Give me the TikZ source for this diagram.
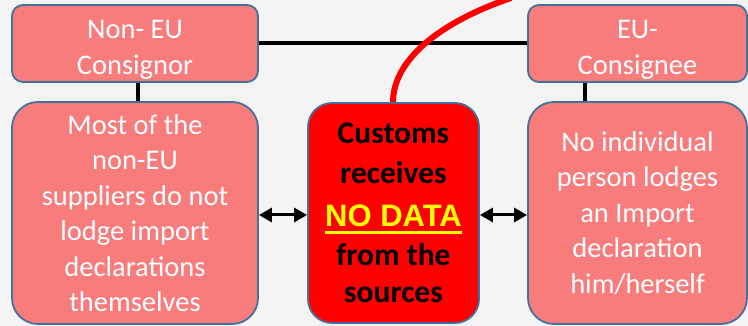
\documentclass[tikz,border=0pt]{standalone}
\usepackage{fontspec}
\setmainfont{Carlito}
\newfontfamily\arialfont{Liberation Sans}
\usetikzlibrary{arrows.meta}
\definecolor{bgc}{HTML}{F4F4F4}
\definecolor{boxfill}{HTML}{F87C7C}
\definecolor{boxline}{HTML}{41719C}
\definecolor{hotred}{HTML}{FF0000}
\definecolor{yel}{HTML}{FFFF00}
\newcommand\yellowul[1]{\setbox0\hbox{#1}\rlap{\color{yel}\rule[-7.5pt]{\wd0}{3.5pt}}\box0}
\tikzset{
  pinkbox/.style={draw=boxline, line width=1.8pt, fill=boxfill, text=white,
    align=center, inner sep=0pt, font=\fontsize{28.5}{35.5}\selectfont},
  smallbox/.style={pinkbox, rounded corners=11pt},
  bigbox/.style={pinkbox, rounded corners=26pt},
  redbox/.style={draw=boxline, line width=1.8pt, fill=hotred, text=black,
    align=center, inner sep=0pt, rounded corners=24pt,
    font=\bfseries\fontsize{31.5}{37}\selectfont},
  link/.style={line width=4pt, black},
  dblarrow/.style={line width=3pt, black, {Triangle[length=13pt,width=14pt]}-{Triangle[length=13pt,width=14pt]}},
  redcurve/.style={line width=6pt, hotred}
}
\begin{document}
\begin{tikzpicture}[x=1pt,y=-1pt]
\useasboundingbox[fill=bgc] (0,0) rectangle (748,326);
% top boxes
\node[smallbox, minimum width=246pt, minimum height=77pt] (tl) at (135,43.5) {\rule{0pt}{31pt}Non- EU\\Consignor};
\node[smallbox, minimum width=219pt, minimum height=77pt] (tr) at (637.5,43.5) {\rule{0pt}{31pt}EU-\\Consignee};
% big boxes
\node[bigbox, minimum width=246pt, minimum height=222pt] (bl) at (135,213) {Most of the\\non-EU\\suppliers do not\\lodge import\\declarations\\themselves};
\node[bigbox, minimum width=219pt, minimum height=222pt] (br) at (637.5,213) {No individual\\person lodges\\an Import\\declaration\\him/herself};
\node[redbox, minimum width=171pt, minimum height=220pt] (cb) at (393.5,213) {Customs\\[3pt]receives\\[6pt]{\color{yel}\arialfont\bfseries\fontsize{31}{37}\selectfont\yellowul{NO DATA}}\\[2pt]from the\\sources};
% connectors
\coordinate (cl) at (138,0);
\coordinate (cr) at (585,0);
\draw[link] (tl.east) -- (tr.west);
\draw[link] (cl |- tl.south) -- (cl |- bl.north);
\draw[link] (cr |- tr.south) -- (cr |- br.north);
\draw[dblarrow] ([yshift=-2pt]bl.east) -- ([yshift=-2pt]cb.west);
\draw[dblarrow] ([yshift=-2pt]cb.east) -- ([yshift=-2pt]br.west);
% red curve
\coordinate (rx) at (393,0);
\coordinate (re) at (511,-2);
\draw[redcurve] (rx |- cb.north) .. controls (393,60) and (440,22) .. (re);
\end{tikzpicture}
\end{document}
